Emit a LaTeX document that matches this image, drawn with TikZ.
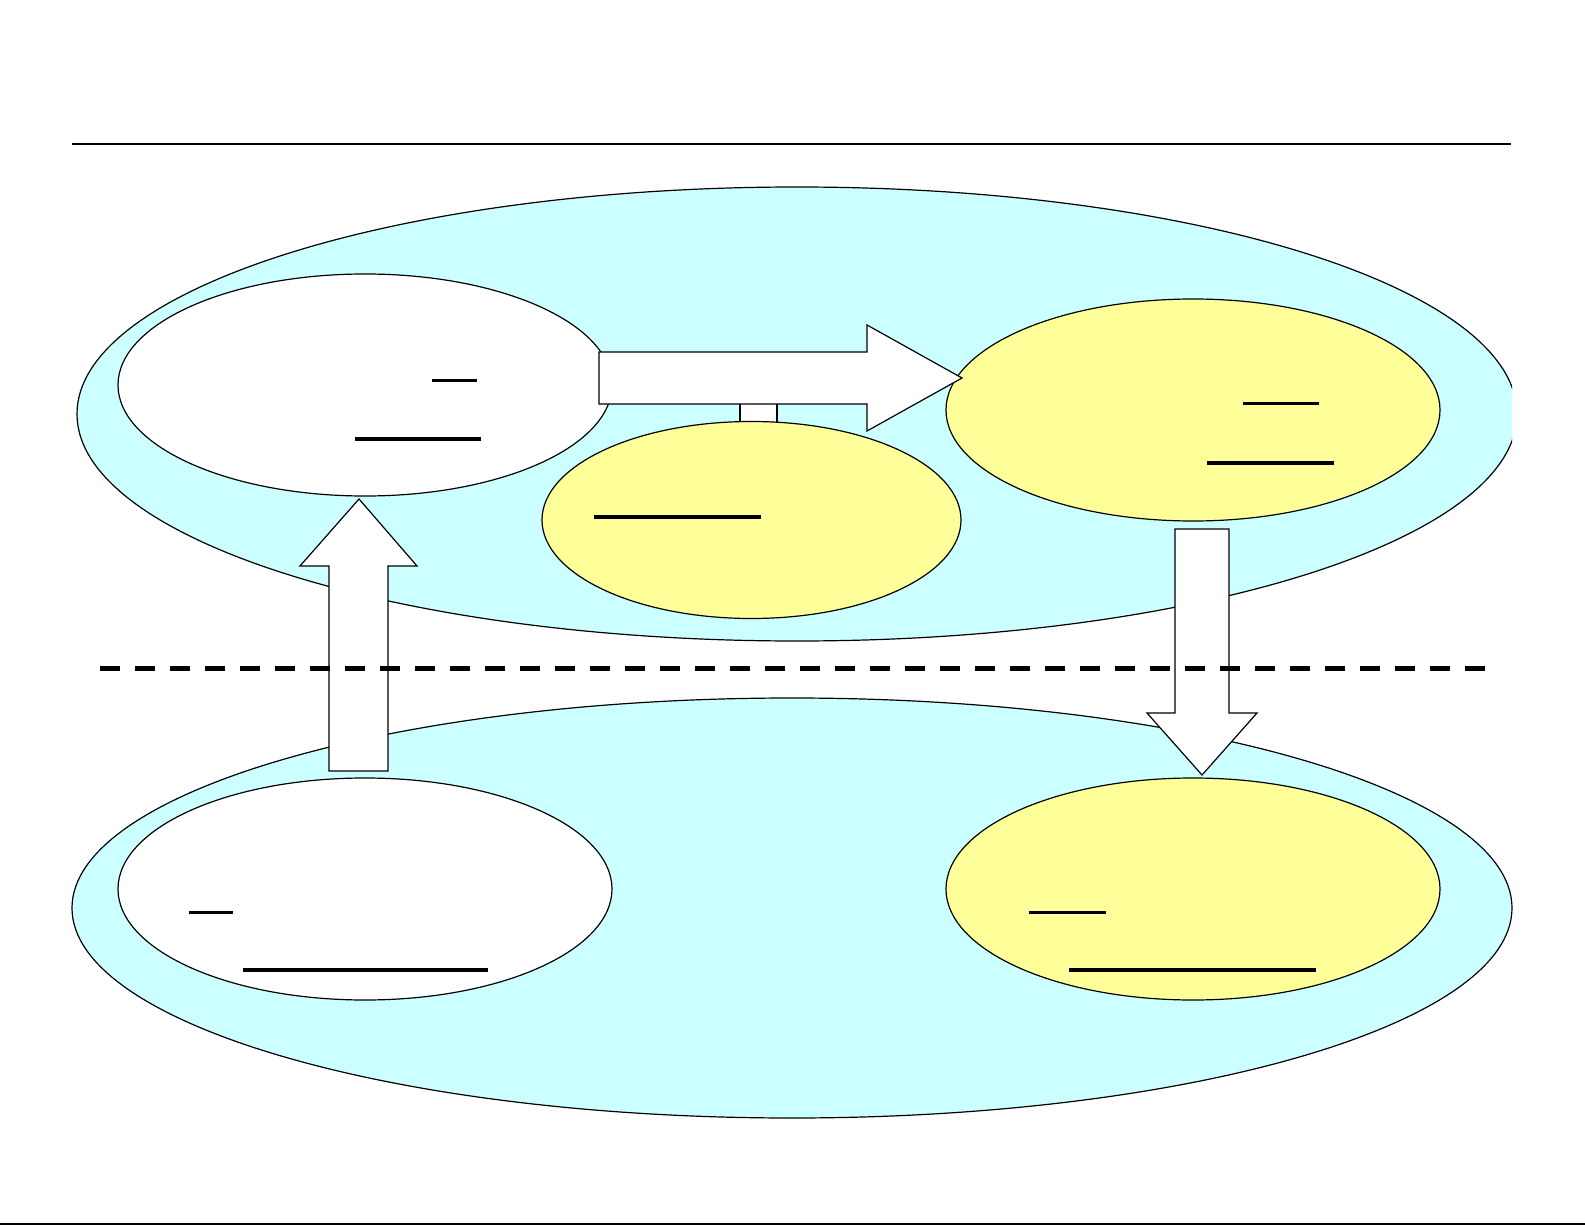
\documentclass[tikz,border=0pt]{standalone}
\usetikzlibrary{shapes.geometric}
\definecolor{lcyan}{RGB}{204,255,255}
\definecolor{lyellow}{RGB}{255,255,153}
\tikzset{
  oval/.style={ellipse, draw=black, line width=0.6pt, inner sep=0pt},
  bigoval/.style={oval, fill=lcyan, minimum width=720pt},
  wov/.style={oval, fill=white, minimum width=247pt, minimum height=111pt},
  yov/.style={oval, fill=lyellow, minimum width=247pt, minimum height=111pt},
  blockarrow/.style={draw=black, fill=white, line width=0.6pt, line join=miter},
  uthin/.style={line width=1.5pt},
  uthick/.style={line width=2pt}
}
\begin{document}
\begin{tikzpicture}[x=0.5pt,y=-0.5pt]
\useasboundingbox (0,0) rectangle (1585,1225);
% top big oval (clipped at right)
\begin{scope}
  \clip (0,0) rectangle (1512,1225);
  \node[bigoval, minimum height=227pt] (topbig) at (797,414) {};
\end{scope}
\node[bigoval, minimum height=210pt] (botbig) at (792,908) {};
% inner ovals
\node[wov] (tl) at (365,385) {};
\node[blockarrow, minimum width=18.5pt, minimum height=10pt, inner sep=0pt, rectangle] (link) at (758.5,412.5) {};
\node[oval, fill=lyellow, minimum width=209.5pt, minimum height=98.5pt] (mid) at (751.5,520) {};
\node[yov] (tr) at (1193,410) {};
\node[wov] (bl) at (365,889) {};
\node[yov] (br) at (1193,889) {};
% block arrows
\draw[blockarrow] (599,352) -- (867,352) -- (867,325) -- (962,378) -- (867,431) -- (867,404) -- (599,404) -- cycle;
\draw[blockarrow] (1175,529) -- (1229,529) -- (1229,713) -- (1257,713) -- (1202,775) -- (1147,713) -- (1175,713) -- cycle;
\draw[blockarrow] (329,771) -- (388,771) -- (388,566) -- (417,566) -- (359,499) -- (300,566) -- (329,566) -- cycle;
% underlines
\draw[uthin] (432,380) -- (477,380);
\draw[uthick] (355,438.5) -- (481,438.5);
\draw[uthick] (594,517) -- (761,517);
\draw[uthin] (1243,403) -- (1319,403);
\draw[uthick] (1207,463) -- (1334,463);
\draw[uthin] (189,912) -- (233,912);
\draw[uthick] (243,970) -- (488,970);
\draw[uthin] (1029,912) -- (1106,912);
\draw[uthick] (1069,970) -- (1316,970);
% rules
\draw[line width=1pt] (72,144) -- (1511,144);
\draw[line width=2.4pt, dash pattern=on 10pt off 7.5pt] (100,668.5) -- (1486,668.5);
\draw[line width=0.8pt] (0,1223.8) -- (1585,1223.8);
\end{tikzpicture}
\end{document}
